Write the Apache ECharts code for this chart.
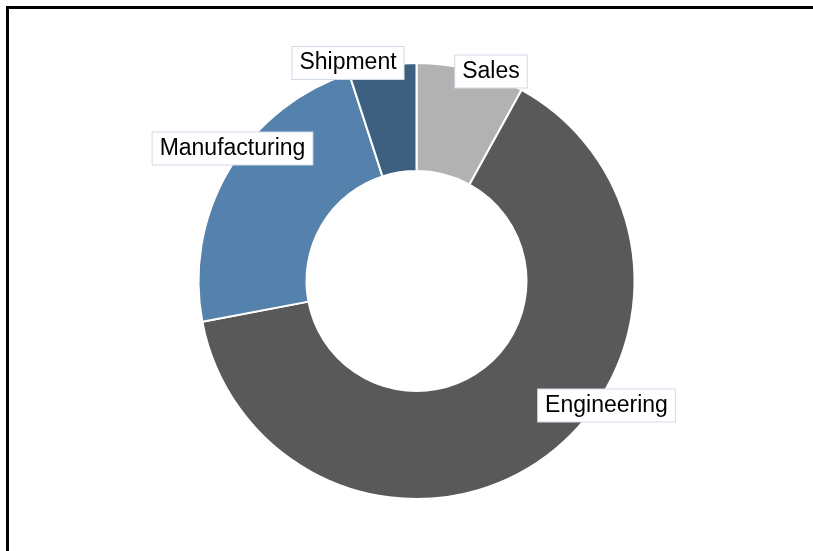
<!DOCTYPE html>
<html>
<head>
<meta charset="utf-8">
<script src="https://cdn.jsdelivr.net/npm/echarts@6/dist/echarts.min.js"></script>
<style>
  html, body { margin: 0; padding: 0; background: #fff; }
  #chart { width: 813px; height: 551px; }
</style>
</head>
<body>
<div id="chart"></div>
<script>
// Department share of the total (percent)
const categories = ['Sales', 'Engineering', 'Manufacturing', 'Shipment'];
const shares = [8, 64, 23, 5];
const sliceColors = ['#b2b2b2', '#595959', '#5482ad', '#3d5f80'];

// Centre points of the callout boxes, in pixels
const calloutCentres = [[491, 71.5], [606.5, 405.5], [232.5, 148.5], [348, 63]];

const chart = echarts.init(document.getElementById('chart'), null, { renderer: 'canvas' });

chart.setOption({
  animation: false,
  backgroundColor: '#fff',
  graphic: [{
    type: 'rect',
    shape: { x: 7.5, y: 7.5, width: 900, height: 700 },
    style: { fill: 'none', stroke: '#000', lineWidth: 3 },
    silent: true,
    z: 100
  }],
  series: [{
    type: 'pie',
    center: [416.5, 281],
    radius: [110, 218],
    startAngle: 90,
    clockwise: true,
    avoidLabelOverlap: false,
    itemStyle: { borderColor: '#fff', borderWidth: 2 },
    label: {
      show: true,
      position: 'outside',
      formatter: '{b}',
      fontFamily: 'Liberation Sans, Arial, sans-serif',
      fontSize: 23,
      lineHeight: 24,
      color: '#000',
      backgroundColor: '#fff',
      borderColor: '#d0dbe8',
      borderWidth: 1,
      padding: [4, 7, 4, 7]
    },
    labelLine: { show: false },
    labelLayout: function (params) {
      const c = calloutCentres[params.dataIndex];
      return { x: c[0], y: c[1], align: 'center', verticalAlign: 'middle' };
    },
    emphasis: { disabled: true },
    data: categories.map((name, i) => ({
      name: name,
      value: shares[i],
      itemStyle: { color: sliceColors[i] }
    }))
  }]
});
</script>
</body>
</html>
